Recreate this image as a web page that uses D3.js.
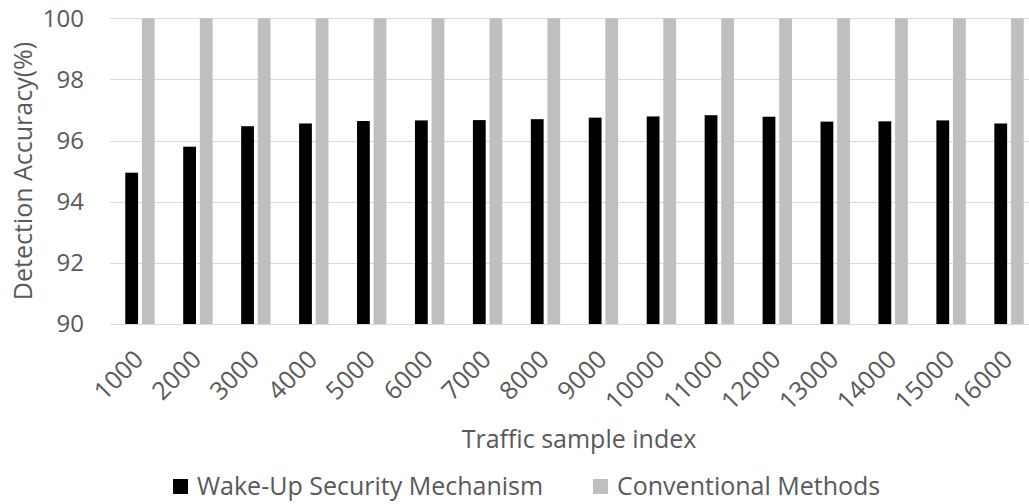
<!DOCTYPE html>
<html>
<head>
<meta charset="utf-8">
<script src="https://cdn.jsdelivr.net/npm/d3@7"></script>
<style>
  html, body { margin: 0; padding: 0; background: #fff; }
  svg { display: block; font-family: "Open Sans", "Noto Sans", sans-serif; }
</style>
</head>
<body>
<svg id="chart" width="1029" height="504"></svg>
<script>
// Traffic sample sizes along the x axis
const categories = ["1000","2000","3000","4000","5000","6000","7000","8000",
                    "9000","10000","11000","12000","13000","14000","15000","16000"];
// Detection accuracy (%) per method
const wakeUp = [94.95, 95.80, 96.47, 96.56, 96.64, 96.66, 96.67, 96.70,
                96.75, 96.79, 96.83, 96.78, 96.62, 96.63, 96.66, 96.56];
const conventional = [100, 100, 100, 100, 100, 100, 100, 100,
                      100, 100, 100, 100, 100, 100, 100, 100];
const seriesNames = ["Wake-Up Security Mechanism", "Conventional Methods"];
const seriesColors = ["#000000", "#bfbfbf"];
const yTicks = [90, 92, 94, 96, 98, 100];

const rows = categories.map((c, i) => ({ cat: c, values: [wakeUp[i], conventional[i]] }));

const svg = d3.select("#chart");
const textColor = "#595959";

const x = d3.scaleBand().domain(categories).range([111, 1038]).padding(0);
const x1 = d3.scaleBand().domain([0, 1]).range([0, x.bandwidth()])
  .paddingInner(0.23).paddingOuter(0.86);
const y = d3.scaleLinear().domain([90, 100]).range([324, 18.3]);

// horizontal gridlines
svg.append("g").selectAll("line").data(yTicks).join("line")
  .attr("x1", 110).attr("x2", 1029)
  .attr("y1", d => Math.round(y(d)) + 0.5).attr("y2", d => Math.round(y(d)) + 0.5)
  .attr("stroke", "#d9d9d9").attr("stroke-width", 1);

// y tick labels
svg.append("g").selectAll("text").data(yTicks).join("text")
  .attr("x", 84).attr("y", d => y(d))
  .attr("dy", "0.35em")
  .attr("text-anchor", "end")
  .attr("fill", textColor)
  .style("font-size", "24px")
  .text(d => d);

// bars
const groups = svg.append("g").selectAll("g").data(rows).join("g")
  .attr("transform", d => `translate(${x(d.cat)},0)`);
groups.selectAll("rect").data(d => d.values.map((v, k) => ({ v, k }))).join("rect")
  .attr("x", d => x1(d.k))
  .attr("width", x1.bandwidth())
  .attr("y", d => y(d.v))
  .attr("height", d => y(90) - y(d.v))
  .attr("fill", d => seriesColors[d.k]);

// x tick labels, rotated
svg.append("g").selectAll("text").data(categories).join("text")
  .attr("transform", d => `translate(${x(d) + x.bandwidth() / 2 + 5},361) rotate(-45)`)
  .attr("text-anchor", "end")
  .attr("fill", textColor)
  .style("font-size", "25px")
  .text(d => d);

// axis titles
svg.append("text")
  .attr("x", 579).attr("y", 448)
  .attr("text-anchor", "middle")
  .attr("fill", textColor)
  .style("font-size", "25px")
  .text("Traffic sample index");

svg.append("text")
  .attr("transform", "translate(32,171) rotate(-90)")
  .attr("text-anchor", "middle")
  .attr("fill", textColor)
  .style("font-size", "25px")
  .text("Detection Accuracy(%)");

// legend
const legendX = [173, 593];
const legend = svg.append("g").selectAll("g").data(seriesNames).join("g")
  .attr("transform", (d, i) => `translate(${legendX[i]},479)`);
legend.append("rect")
  .attr("width", 15).attr("height", 15)
  .attr("fill", (d, i) => seriesColors[i]);
legend.append("text")
  .attr("x", 24).attr("y", 16)
  .attr("fill", textColor)
  .style("font-size", "25px")
  .text(d => d);
</script>
</body>
</html>
